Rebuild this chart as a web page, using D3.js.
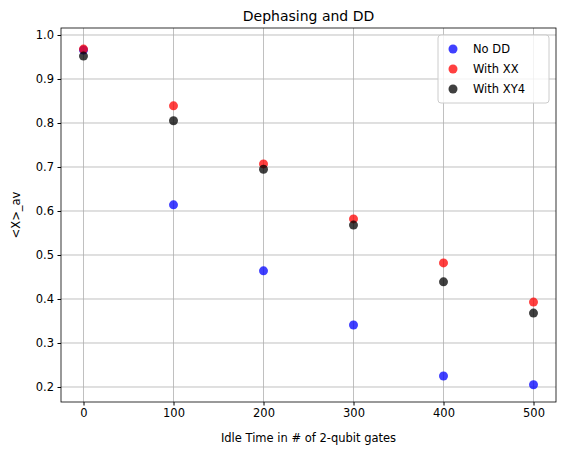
<!DOCTYPE html>
<html><head><meta charset="utf-8">
<script src="https://cdn.jsdelivr.net/npm/d3@7"></script>
<style>body{margin:0;background:#fff}text{font-family:"DejaVu Sans",sans-serif}</style>
</head><body><svg id="c" width="567" height="455"></svg>
<script>
const idle=[0,100,200,300,400,500];
const noDD=[0.966,0.614,0.464,0.341,0.225,0.205];
const withXX=[0.968,0.839,0.707,0.582,0.482,0.393];
const withXY4=[0.952,0.805,0.695,0.568,0.439,0.368];
const yTicks=[0.2,0.3,0.4,0.5,0.6,0.7,0.8,0.9,1.0];
const xTicks=[0,100,200,300,400,500];
const series=[{name:"No DD",v:noDD,c:"blue"},{name:"With XX",v:withXX,c:"red"},{name:"With XY4",v:withXY4,c:"black"}];
const L=61,R=556,T=28,B=402;
const svg=d3.select("#c");
const x=d3.scaleLinear().domain([-25,525]).range([L,R]);
const y=d3.scaleLinear().domain([0.1659,1.0159]).range([B,T]);
const g=svg.append("g");
xTicks.forEach(t=>g.append("line").attr("x1",x(t)).attr("x2",x(t)).attr("y1",T).attr("y2",B).attr("stroke","#b0b0b0").attr("stroke-width",0.8));
yTicks.forEach(t=>g.append("line").attr("x1",L).attr("x2",R).attr("y1",y(t)).attr("y2",y(t)).attr("stroke","#b0b0b0").attr("stroke-width",0.8));
series.forEach(s=>svg.append("g").selectAll("circle").data(s.v).join("circle")
 .attr("cx",(d,i)=>x(idle[i])).attr("cy",d=>y(d)).attr("r",4.5).attr("fill",s.c).attr("fill-opacity",0.75));
svg.append("g").attr("transform",`translate(0,${B})`).call(d3.axisBottom(x).tickValues(xTicks).tickSize(3.5).tickPadding(3.5)).call(a=>a.select(".domain").remove()).selectAll("text").attr("font-size",11.5).attr("fill","#000");
svg.append("g").attr("transform",`translate(${L},0)`).call(d3.axisLeft(y).tickValues(yTicks).tickFormat(d3.format(".1f")).tickSize(3.5).tickPadding(3.5)).call(a=>a.select(".domain").remove()).selectAll("text").attr("font-size",11.5).attr("fill","#000");
svg.append("rect").attr("x",L).attr("y",T).attr("width",R-L).attr("height",B-T).attr("fill","none").attr("stroke","#000").attr("stroke-width",0.8);
svg.append("text").attr("x",(L+R)/2).attr("y",T-7).attr("text-anchor","middle").attr("font-size",14).text("Dephasing and DD");
svg.append("text").attr("x",(L+R)/2).attr("y",442).attr("text-anchor","middle").attr("font-size",11.5).text("Idle Time in # of 2-qubit gates");
svg.append("text").attr("transform",`translate(20,${(T+B)/2}) rotate(-90)`).attr("text-anchor","middle").attr("font-size",11.5).text("<X>_av");
const lg=svg.append("g").attr("transform","translate(438,35)");
lg.append("rect").attr("width",111).attr("height",68).attr("rx",3).attr("fill","#fff").attr("fill-opacity",0.8).attr("stroke","#ccc");
series.forEach((s,i)=>{const yy=14+i*20;
 lg.append("circle").attr("cx",15).attr("cy",yy).attr("r",4.5).attr("fill",s.c).attr("fill-opacity",0.75);
 lg.append("text").attr("x",35).attr("y",yy+4).attr("font-size",11.5).text(s.name);});
</script></body></html>
